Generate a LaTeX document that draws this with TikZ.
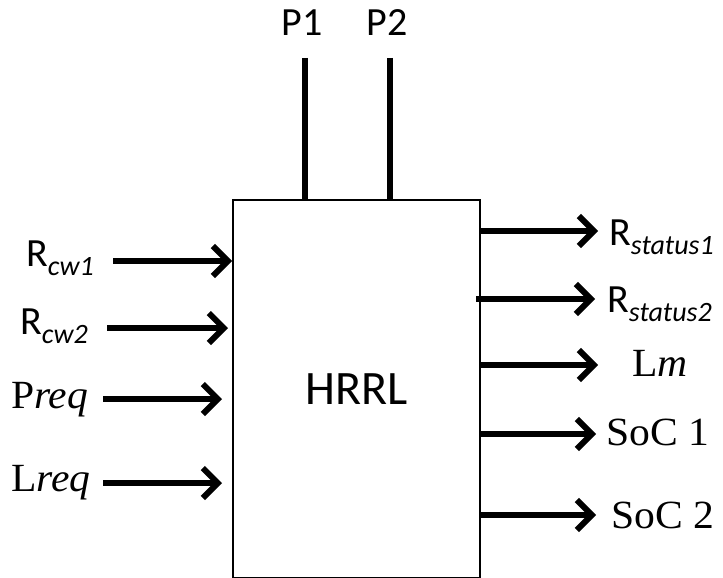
\documentclass[tikz,border=0pt]{standalone}
\usepackage{fontspec}
\setmainfont{Liberation Serif}
\newfontfamily\calibri{Carlito}
\newfontfamily\timesw[FakeStretch=1.04]{Liberation Serif}
\usetikzlibrary{arrows.meta}
\tikzset{
  blockBox/.style={draw, line width=2pt, minimum width=247pt, minimum height=378pt, inner sep=0pt, font=\calibri\fontsize{48}{52}\selectfont},
  sigArrow/.style={-{Straight Barb[length=15pt,width=30pt]}, line width=6pt},
  portLine/.style={line width=6pt},
  sansLabel/.style={font=\calibri\fontsize{40}{44}\selectfont, inner sep=0pt, anchor=base west},
  serifLabel/.style={font=\timesw\fontsize{40}{44}\selectfont, inner sep=0pt, anchor=base west}
}
\begin{document}
\begin{tikzpicture}[x=1pt,y=-1pt]
  \useasboundingbox (0,0) rectangle (723,578);
  \node[blockBox, anchor=north west] (hrrl) at (232,199) {HRRL};

  % ports on top
  \node[sansLabel, anchor=base] (p1lab) at (302,36) {P1};
  \node[sansLabel, anchor=base] (p2lab) at (387,36) {P2};
  \coordinate (p1) at (305,58);
  \coordinate (p2) at (390,58);
  \draw[portLine] (p1) -- (p1 |- hrrl.north);
  \draw[portLine] (p2) -- (p2 |- hrrl.north);

  % inputs
  \node[sansLabel] (rcw1) at (26,266) {R\textsubscript{\textit{cw1}}};
  \node[sansLabel] (rcw2) at (20,334) {R\textsubscript{\textit{cw2}}};
  \node[serifLabel] (preq) at (11,408) {P\textit{req}};
  \node[serifLabel] (lreq) at (11,491) {L\textit{req}};
  \coordinate (in1) at (113,261);
  \coordinate (in2) at (107,328);
  \coordinate (in3) at (103,399);
  \coordinate (in4) at (103,483);
  \draw[sigArrow] (in1) -- (in1 -| hrrl.west);
  \draw[sigArrow] (in2) -- ([xshift=-4pt]in2 -| hrrl.west);
  \draw[sigArrow] (in3) -- ([xshift=-10pt]in3 -| hrrl.west);
  \draw[sigArrow] (in4) -- ([xshift=-10pt]in4 -| hrrl.west);

  % outputs
  \node[sansLabel] (rst1) at (609,245) {R\textsubscript{\textit{status1}}};
  \node[sansLabel] (rst2) at (607,312) {R\textsubscript{\textit{status2}}};
  \node[serifLabel] (lm) at (632,376) {L\textit{m}};
  \node[serifLabel] (soc1) at (606,445) {SoC 1};
  \node[serifLabel] (soc2) at (611,528) {SoC 2};
  \coordinate (out1) at (598,231);
  \coordinate (out2) at (595,299);
  \coordinate (out3) at (598,365);
  \coordinate (out4) at (596,434);
  \coordinate (out5) at (596,515);
  \draw[sigArrow] (out1 -| hrrl.east) -- (out1);
  \draw[sigArrow] ([xshift=-5pt]out2 -| hrrl.east) -- (out2);
  \draw[sigArrow] (out3 -| hrrl.east) -- (out3);
  \draw[sigArrow] (out4 -| hrrl.east) -- (out4);
  \draw[sigArrow] (out5 -| hrrl.east) -- (out5);
\end{tikzpicture}
\end{document}
